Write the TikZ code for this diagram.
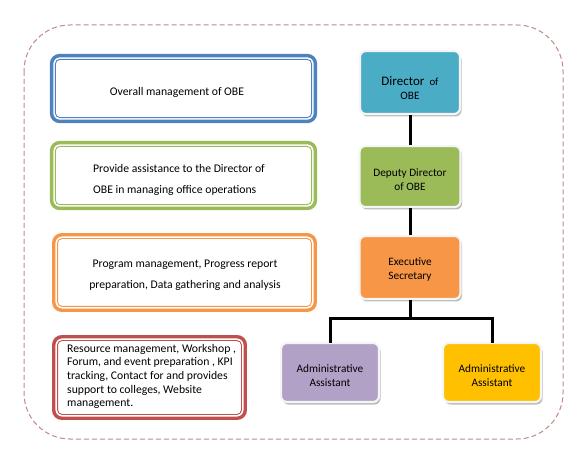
\documentclass[tikz,border=0pt]{standalone}
\usepackage{fontspec}
\setmainfont{Carlito}
\usetikzlibrary{shadows}
\definecolor{cBlue}{HTML}{4F81BD}
\definecolor{cGreen}{HTML}{9BBB59}
\definecolor{cOrange}{HTML}{F79646}
\definecolor{cRed}{HTML}{C0504D}
\definecolor{cTeal}{HTML}{4BACC6}
\definecolor{cPurple}{HTML}{B2A1C7}
\definecolor{cGold}{HTML}{FFC000}
\definecolor{cDash}{HTML}{C48684}
\begin{document}
\begin{tikzpicture}[x=1pt,y=-1pt,
  descbox/.style={draw=#1, line width=3.4pt, rounded corners=8pt, outer sep=0pt, fill=white, inner sep=0pt},
  descinner/.style={draw=#1, line width=0.9pt, rounded corners=4.5pt},
  rolebox/.style={fill=#1, draw=white!92!gray, line width=2.2pt, rounded corners=6pt, outer sep=0pt,
    drop shadow={shadow xshift=1.5pt, shadow yshift=-2.5pt, fill=gray, opacity=0.55}},
  desctext/.style={font=\fontsize{11.7}{#1}\selectfont, inner sep=0pt},
  roletext/.style={font=\fontsize{11.3}{14}\selectfont, align=center, inner sep=0pt},
  link/.style={draw=black, line width=3pt}
]
\useasboundingbox (0,0) rectangle (587,465);
% outer dashed frame
\draw[cDash, line width=1pt, dash pattern=on 5pt off 3pt, rounded corners=46pt] (24,25) rectangle (563,439);

% description boxes
\node[descbox=cBlue, minimum width=263.8pt, minimum height=65.8pt] (d1) at (183.5,88.5) {};
\node[descbox=cGreen, minimum width=263.8pt, minimum height=65.8pt] (d2) at (183.5,175.5) {};
\node[descbox=cOrange, minimum width=261.5pt, minimum height=75.5pt] (d3) at (184.5,272.5) {};
\node[descbox=cRed, minimum width=191.5pt, minimum height=81.5pt] (d4) at (149.5,377.5) {};
\foreach \b/\c in {d1/cBlue,d2/cGreen,d3/cOrange,d4/cRed}{
  \draw[descinner=\c] ([xshift=3.8pt,yshift=-3.8pt]\b.north west) rectangle ([xshift=-3.8pt,yshift=3.8pt]\b.south east);
}
\node[desctext=14, anchor=center] (t1) at (177,92) {Overall management of OBE};
\node[desctext=21, anchor=west, align=left] (t2) at (93,179.5) {Provide assistance to the Director of\\OBE in managing office operations};
\node[desctext=21, anchor=center, align=center] (t3) at (185,275.5) {Program management, Progress report\\preparation, Data gathering and analysis};
\node[desctext=13.7, anchor=west, align=left] (t4) at (67,376.5) {Resource management, Workshop ,\\Forum, and event preparation , KPI\\tracking, Contact for and provides\\support to colleges, Website\\management.};

% role boxes
\node[rolebox=cTeal, minimum width=100pt, minimum height=63pt] (dir) at (410,82.5) {};
\node[rolebox=cGreen, minimum width=101pt, minimum height=61pt] (dep) at (410,176.5) {};
\node[rolebox=cOrange, minimum width=101pt, minimum height=63pt] (exe) at (410,267.5) {};
\node[rolebox=cPurple, minimum width=98pt, minimum height=59pt] (aa1) at (330,372.5) {};
\node[rolebox=cGold, minimum width=98pt, minimum height=59pt] (aa2) at (492,372.5) {};

\node[roletext] (dirt) at (410,88) {{\fontsize{13}{14}\selectfont Director}\ \ {\fontsize{10.8}{14}\selectfont of}\\OBE};
\node[roletext] (dept) at (410,179.5) {Deputy Director\\of OBE};
\node[roletext] (exet) at (410,270) {Executive\\Secretary};
\node[roletext] (aa1t) at (330,375.5) {Administrative\\Assistant};
\node[roletext] (aa2t) at (492,375.5) {Administrative\\Assistant};

% connectors
\coordinate (bus) at (410,319);
\draw[link] ([yshift=-1.1pt]dir.south) -- ([yshift=1.1pt]dep.north);
\draw[link] ([yshift=-1.1pt]dep.south) -- ([yshift=1.1pt]exe.north);
\draw[link] ([yshift=-1.1pt]exe.south) -- (bus);
\draw[link, line cap=rect] (bus) -| ([yshift=1.1pt]aa1.north);
\draw[link, line cap=rect] (bus) -| ([yshift=1.1pt]aa2.north);
\end{tikzpicture}
\end{document}
